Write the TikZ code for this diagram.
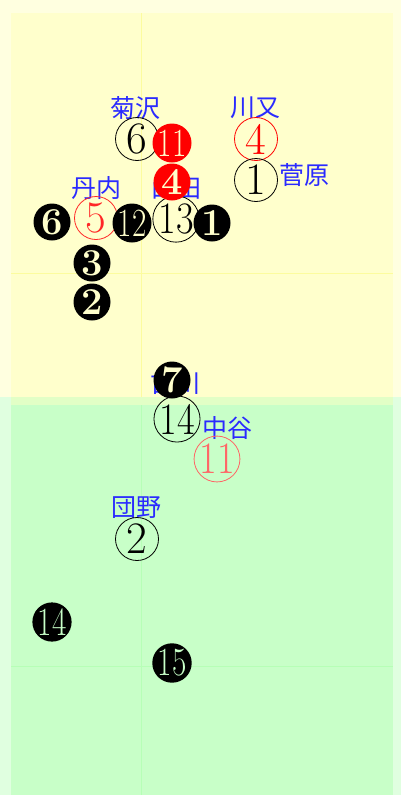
\documentclass[tikz,border=0pt]{standalone}
\usepackage{fontspec}
\newfontfamily\cjk{Noto Sans CJK JP}
\usepackage{graphicx}
\definecolor{yout}{HTML}{FFFFE0}
\definecolor{yin}{HTML}{FFFFCC}
\definecolor{gout}{HTML}{E0FFE0}
\definecolor{gin}{HTML}{C8FFC8}
\definecolor{band}{HTML}{E2FFC6}
\definecolor{lblue}{HTML}{2A2AFF}
\definecolor{pred}{HTML}{FF6666}
\tikzset{
  ocirc/.style={circle, draw=black, line width=0.8pt, minimum size=43pt, inner sep=0pt, font=\fontsize{45}{45}\selectfont},
  fcirc/.style={circle, fill=black, minimum size=37pt, inner sep=0pt, font=\bfseries\fontsize{38}{38}\selectfont},
  fcircw/.style={circle, fill=black, minimum size=37pt, inner sep=0pt, font=\fontsize{40}{40}\selectfont},
  lbl/.style={text=lblue, inner sep=0pt, font=\cjk\fontsize{25}{25}\selectfont},
}
\newcommand{\nrw}[1]{\scalebox{0.78}[1]{#1}}
\newcommand{\nro}[1]{\scalebox{0.85}[1]{#1}}
\begin{document}
\begin{tikzpicture}[x=1pt,y=-1pt]
\useasboundingbox (0,0) rectangle (401,795);
% backgrounds
\fill[yout] (0,0) rectangle (401,397);
\fill[gout] (0,397) rectangle (401,795);
\fill[yin] (11,13) rectangle (393,397);
\fill[band] (11,397) rectangle (393,405);
\fill[gin] (11,405) rectangle (393,795);
% faint grid lines
\draw[color=yin!92!black!40!yellow, line width=0.5pt, opacity=0.35] (141,13) -- (141,397) (11,273) -- (393,273);
\draw[color=gin!85!green, line width=0.5pt, opacity=0.6] (141,405) -- (141,795) (11,666) -- (393,666);
% labels
\node[lbl] (lkiku) at (135,108) {菊沢};
\node[lbl] (lkawa) at (255,108) {川又};
\node[lbl] (lsuga) at (304,175) {菅原};
\node[lbl] (ltan) at (96,188) {丹内};
\node[lbl] (lyama) at (176,188) {山田};
\node[lbl] (lfuru) at (175,383) {古川};
\node[lbl] (lnaka) at (227,428) {中谷};
\node[lbl] (ldan) at (136,508) {団野};
% outline circles
\node[ocirc] (o6) at (137,139) {6};
\node[ocirc, draw=red, text=red] (o4) at (256,139) {4};
\node[ocirc] (o1) at (256,180) {1};
\node[ocirc, draw=red!85, text=red!85] (o5) at (96,218) {5};
\node[ocirc] (o13) at (176,219) {\nro{13}};
\node[ocirc] (o14) at (177,419) {\nro{14}};
\node[ocirc, draw=pred, text=pred] (o11) at (217,459) {\nro{11}};
\node[ocirc] (o2) at (137,539) {2};
% filled circles
\node[fcircw, fill=red, text=yin] (f11) at (172,143) {\nrw{11}};
\node[fcirc, fill=red, text=yin] (f4) at (172,182) {4};
\node[fcirc, text=yin] (f6) at (52,222) {6};
\node[fcircw, text=yin] (f12) at (132,223) {\nrw{12}};
\node[fcirc, text=yin] (f1) at (212,223) {1};
\node[fcirc, text=yin] (f3) at (92,263) {3};
\node[fcirc, text=yin] (f2) at (92,302) {2};
\node[fcirc, text=yin] (f7) at (172,380) {7};
\node[fcircw, text=gin] (f14) at (52,622) {\nrw{14}};
\node[fcircw, text=gin] (f15) at (172,663) {\nrw{15}};
\end{tikzpicture}
\end{document}
